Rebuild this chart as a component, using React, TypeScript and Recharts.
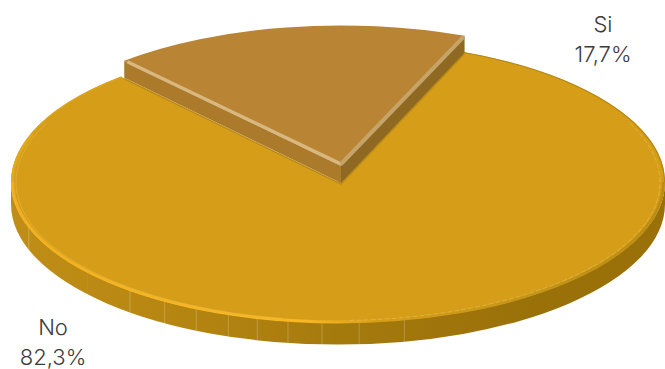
import { Pie, PieChart } from 'recharts'

const categories = ['No', 'Si']
const shares = [82.3, 17.7]
const sliceColors = ['#d69e18', '#b98433']
const chartData = categories.map((name, i) => ({ name, value: shares[i] }))

// the pie lies flat, so every radius is squashed vertically by this much
const SQUASH = 0.43
const START_ANGLE = 67.8
const OUTER_RADIUS = 327
const MAIN_THICKNESS = 22
const SI_THICKNESS = 17

// the "Si" wedge is pulled out towards the back
const SI_SHIFT = { x: 3, y: -16 }

// facets of the front wall, in degrees
const seamAngles = [199, 220, 230.5, 238, 244.3, 250.4, 255.7, 261.2, 267.2, 273.7, 281.7]

const labelSpots = [
  { x: 53, y: 335 },
  { x: 603, y: 32 },
]

const RAD = Math.PI / 180

const onRim = (cx: number, cy: number, r: number, deg: number) => ({
  x: cx + r * Math.cos(deg * RAD),
  y: cy - r * SQUASH * Math.sin(deg * RAD),
})

// elliptical arc walking clockwise on screen from one angle down to a lower one
const arcPath = (cx: number, cy: number, r: number, from: number, to: number) => {
  const start = onRim(cx, cy, r, from)
  const end = onRim(cx, cy, r, to)
  const large = Math.abs(from - to) > 180 ? 1 : 0
  return `M ${start.x} ${start.y} A ${r} ${r * SQUASH} 0 ${large} 1 ${end.x} ${end.y}`
}

const wedgePath = (cx: number, cy: number, r: number, from: number, to: number) =>
  `M ${cx} ${cy} ${arcPath(cx, cy, r, from, to).replace('M', 'L')} Z`

const NoSlice = ({ cx, cy, outerRadius: r, startAngle, endAngle, fill }: any) => {
  const left = onRim(cx, cy, r, 180)
  const right = onRim(cx, cy, r, 0)
  const ry = r * SQUASH
  const wall =
    `M ${right.x} ${right.y} A ${r} ${ry} 0 0 1 ${left.x} ${left.y} ` +
    `L ${left.x} ${left.y + MAIN_THICKNESS} A ${r} ${ry} 0 0 0 ${right.x} ${right.y + MAIN_THICKNESS} Z`
  return (
    <g>
      <defs>
        <linearGradient id="noWall" gradientUnits="userSpaceOnUse" x1={left.x} x2={right.x} y1="0" y2="0">
          <stop offset="0" stopColor="#c08e16" />
          <stop offset="0.2" stopColor="#b98812" />
          <stop offset="0.5" stopColor="#a57a0d" />
          <stop offset="0.8" stopColor="#9a7009" />
          <stop offset="1" stopColor="#9a7009" />
        </linearGradient>
        <linearGradient id="noRim" gradientUnits="userSpaceOnUse" x1={left.x} x2={right.x} y1="0" y2="0">
          <stop offset="0" stopColor="#f2b020" />
          <stop offset="0.45" stopColor="#f8b824" />
          <stop offset="0.56" stopColor="#d69e18" />
          <stop offset="0.85" stopColor="#c29216" />
          <stop offset="1" stopColor="#bc8d15" />
        </linearGradient>
      </defs>
      <path d={wall} fill="url(#noWall)" />
      {seamAngles.map((deg) => {
        const top = onRim(cx, cy, r, deg)
        return (
          <line
            key={deg}
            x1={top.x}
            x2={top.x}
            y1={top.y}
            y2={top.y + MAIN_THICKNESS}
            stroke="#fff"
            strokeOpacity={deg === 220 ? 0.04 : 0.22}
          />
        )
      })}
      <path d={wedgePath(cx, cy, r, startAngle, endAngle)} fill={fill} />
      {/* bevel round the rim */}
      <path d={arcPath(cx, cy, r - 1.5, 0, -180)} fill="none" stroke="url(#noRim)" strokeWidth={3} />
      <path d={arcPath(cx, cy, r - 1.5, -180, -200)} fill="none" stroke="#e3a91d" strokeWidth={3} />
      <path d={arcPath(cx, cy, r - 0.5, -200, endAngle)} fill="none" stroke="#dda51b" strokeWidth={1.5} />
      <path d={arcPath(cx, cy, r - 0.5, startAngle, 0)} fill="none" stroke="#b68813" strokeWidth={1.2} />
      <path d={arcPath(cx, cy, r - 5, 25, -88)} fill="none" stroke="#f5dc92" strokeOpacity={0.4} strokeWidth={0.8} strokeDasharray="5 2" />
      <path d={arcPath(cx, cy, r - 5, -100, -205)} fill="none" stroke="#f2d27a" strokeOpacity={0.4} strokeWidth={0.7} />
    </g>
  )
}

const SiSlice = ({ cx, cy, outerRadius: r, startAngle, endAngle, fill }: any) => {
  const x0 = cx + SI_SHIFT.x
  const y0 = cy + SI_SHIFT.y
  // angles arrive past the -180 wrap, bring them back for the flat geometry
  const from = startAngle + 360
  const to = endAngle + 360
  const a = onRim(x0, y0, r, from)
  const b = onRim(x0, y0, r, to)
  const t = SI_THICKNESS
  return (
    <g>
      {/* shadow line where the walls meet the lower slice */}
      <path
        d={`M ${a.x} ${a.y + t + 1} L ${x0} ${y0 + t + 1} L ${b.x} ${b.y + t + 1}`}
        fill="none"
        stroke="#bd8c17"
        strokeWidth={1.5}
      />
      <path d={`M ${a.x} ${a.y} L ${x0} ${y0} L ${x0} ${y0 + t} L ${a.x} ${a.y + t} Z`} fill="#ab7a2a" />
      <path d={`M ${b.x} ${b.y} L ${x0} ${y0} L ${x0} ${y0 + t} L ${b.x} ${b.y + t} Z`} fill="#8f6821" />
      <path d={wedgePath(x0, y0, r, from, to)} fill={fill} />
      <line x1={a.x + 3} y1={a.y + 1} x2={x0} y2={y0 - 2} stroke="#d8b880" strokeWidth={3.5} />
      <line x1={b.x - 1} y1={b.y + 1} x2={x0} y2={y0 - 2} stroke="#c6a468" strokeWidth={4} />
    </g>
  )
}

const drawSlice = (props: any) => {
  const fill = sliceColors[categories.indexOf(props.name)]
  return props.name === 'Si' ? <SiSlice {...props} fill={fill} /> : <NoSlice {...props} fill={fill} />
}

const formatShare = (value: number) => `${value.toFixed(1).replace('.', ',')}%`

const drawLabel = ({ index }: any) => {
  const spot = labelSpots[index]
  return (
    <text
      key={categories[index]}
      x={spot.x}
      y={spot.y}
      textAnchor="middle"
      fontFamily="Inter, sans-serif"
      fontWeight={300}
      fontSize={22}
      fill="#3c3c3c"
    >
      <tspan x={spot.x}>{categories[index]}</tspan>
      <tspan x={spot.x} dy={29.5}>{formatShare(shares[index])}</tspan>
    </text>
  )
}

export default function App() {
  return (
    <div style={{ position: 'absolute', left: 0, top: 0, width: 665, height: 369 }}>
      <PieChart width={665} height={369} margin={{ top: 0, right: 0, bottom: 0, left: 0 }}>
        <Pie
          data={chartData}
          dataKey="value"
          nameKey="name"
          cx={338}
          cy={182}
          outerRadius={OUTER_RADIUS}
          startAngle={START_ANGLE}
          endAngle={START_ANGLE - 360}
          stroke="none"
          shape={drawSlice}
          label={drawLabel}
          labelLine={false}
          rootTabIndex={-1}
          isAnimationActive={false}
        />
      </PieChart>
    </div>
  )
}
